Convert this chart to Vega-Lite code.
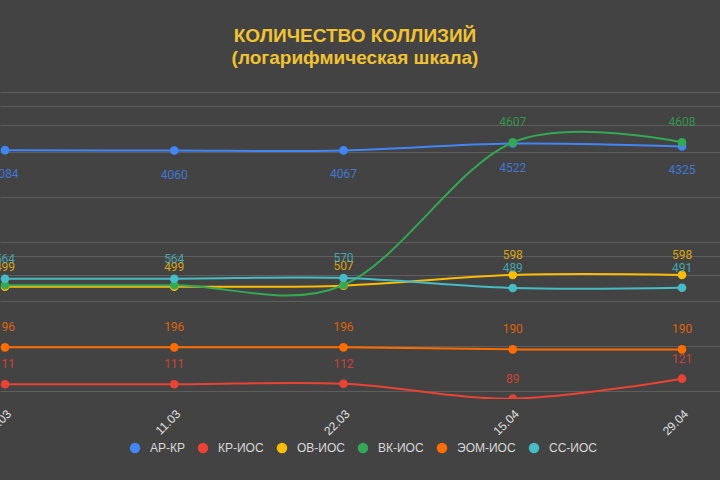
{
  "$schema": "https://vega.github.io/schema/vega-lite/v6.json",
  "width": 720,
  "height": 307,
  "autosize": {"type": "none"},
  "padding": {"top": 92, "left": 0, "right": 0, "bottom": 81},
  "background": "#434343",
  "title": {
    "text": ["КОЛИЧЕСТВО КОЛЛИЗИЙ", "(логарифмическая шкала)"],
    "anchor": "middle",
    "frame": "group",
    "font": "Liberation Sans",
    "fontSize": 19,
    "fontWeight": "bold",
    "color": "#f1c232",
    "lineHeight": 22,
    "offset": 24,
    "dx": -5
  },
  "config": {
    "view": {"stroke": null},
    "font": "Liberation Sans"
  },
  "data": {
    "values": [
      {"date": "01.03", "series": "АР-КР", "value": 4084},
      {"date": "11.03", "series": "АР-КР", "value": 4060},
      {"date": "22.03", "series": "АР-КР", "value": 4067},
      {"date": "15.04", "series": "АР-КР", "value": 4522},
      {"date": "29.04", "series": "АР-КР", "value": 4325},
      {"date": "01.03", "series": "КР-ИОС", "value": 111},
      {"date": "11.03", "series": "КР-ИОС", "value": 111},
      {"date": "22.03", "series": "КР-ИОС", "value": 112},
      {"date": "15.04", "series": "КР-ИОС", "value": 89},
      {"date": "29.04", "series": "КР-ИОС", "value": 121},
      {"date": "01.03", "series": "ОВ-ИОС", "value": 499},
      {"date": "11.03", "series": "ОВ-ИОС", "value": 499},
      {"date": "22.03", "series": "ОВ-ИОС", "value": 507},
      {"date": "15.04", "series": "ОВ-ИОС", "value": 598},
      {"date": "29.04", "series": "ОВ-ИОС", "value": 598},
      {"date": "01.03", "series": "ВК-ИОС", "value": 511},
      {"date": "11.03", "series": "ВК-ИОС", "value": 511},
      {"date": "22.03", "series": "ВК-ИОС", "value": 512},
      {"date": "15.04", "series": "ВК-ИОС", "value": 4607},
      {"date": "29.04", "series": "ВК-ИОС", "value": 4608},
      {"date": "01.03", "series": "ЭОМ-ИОС", "value": 196},
      {"date": "11.03", "series": "ЭОМ-ИОС", "value": 196},
      {"date": "22.03", "series": "ЭОМ-ИОС", "value": 196},
      {"date": "15.04", "series": "ЭОМ-ИОС", "value": 190},
      {"date": "29.04", "series": "ЭОМ-ИОС", "value": 190},
      {"date": "01.03", "series": "СС-ИОС", "value": 564},
      {"date": "11.03", "series": "СС-ИОС", "value": 564},
      {"date": "22.03", "series": "СС-ИОС", "value": 570},
      {"date": "15.04", "series": "СС-ИОС", "value": 489},
      {"date": "29.04", "series": "СС-ИОС", "value": 491}
    ]
  },
  "encoding": {
    "x": {
      "field": "date",
      "type": "ordinal",
      "sort": null,
      "scale": {"type": "point", "padding": 0.127, "align": 0.116},
      "axis": {
        "title": null,
        "labelAngle": -45,
        "labelColor": "#e0e0e0",
        "labelFontSize": 12,
        "labelPadding": 9,
        "domain": false,
        "ticks": false,
        "grid": false
      }
    },
    "y": {
      "field": "value",
      "type": "quantitative",
      "scale": {"type": "log", "domain": [88.5, 10000], "nice": false},
      "axis": {
        "title": null,
        "labels": false,
        "ticks": false,
        "domain": false,
        "grid": true,
        "gridColor": "#5e5e5e",
        "gridWidth": 1,
        "values": [100, 200, 400, 600, 800, 1000, 2000, 4000, 6000, 8000, 10000]
      }
    },
    "color": {
      "field": "series",
      "type": "nominal",
      "scale": {
        "domain": ["АР-КР", "КР-ИОС", "ОВ-ИОС", "ВК-ИОС", "ЭОМ-ИОС", "СС-ИОС"],
        "range": ["#4285f4", "#ea4335", "#fbbc04", "#34a853", "#ff6d01", "#46bdc6"]
      },
      "legend": {
        "title": null,
        "orient": "none",
        "legendX": 129,
        "legendY": 350,
        "direction": "horizontal",
        "symbolType": "circle",
        "symbolSize": 110,
        "symbolStrokeWidth": 0,
        "labelColor": "#d9d9d9",
        "labelFontSize": 12,
        "labelOffset": 9,
        "columnPadding": 12
      }
    }
  },
  "layer": [
    {
      "mark": {"type": "line", "interpolate": "cardinal", "tension": 0, "strokeWidth": 2, "clip": true}
    },
    {
      "mark": {"type": "point", "filled": true, "size": 75, "opacity": 1, "clip": true}
    },
    {
      "transform": [{"filter": "datum.series === 'АР-КР'"}],
      "mark": {"type": "text", "dy": 24, "fontSize": 12, "font": "Roboto", "opacity": 0.8},
      "encoding": {"text": {"field": "value", "type": "quantitative"}}
    },
    {
      "transform": [{"filter": "datum.series !== 'АР-КР' && !(datum.series === 'ВК-ИОС' && datum.value < 1000)"}],
      "mark": {"type": "text", "dy": -20, "fontSize": 12, "font": "Roboto", "opacity": 0.8},
      "encoding": {"text": {"field": "value", "type": "quantitative"}}
    }
  ]
}
